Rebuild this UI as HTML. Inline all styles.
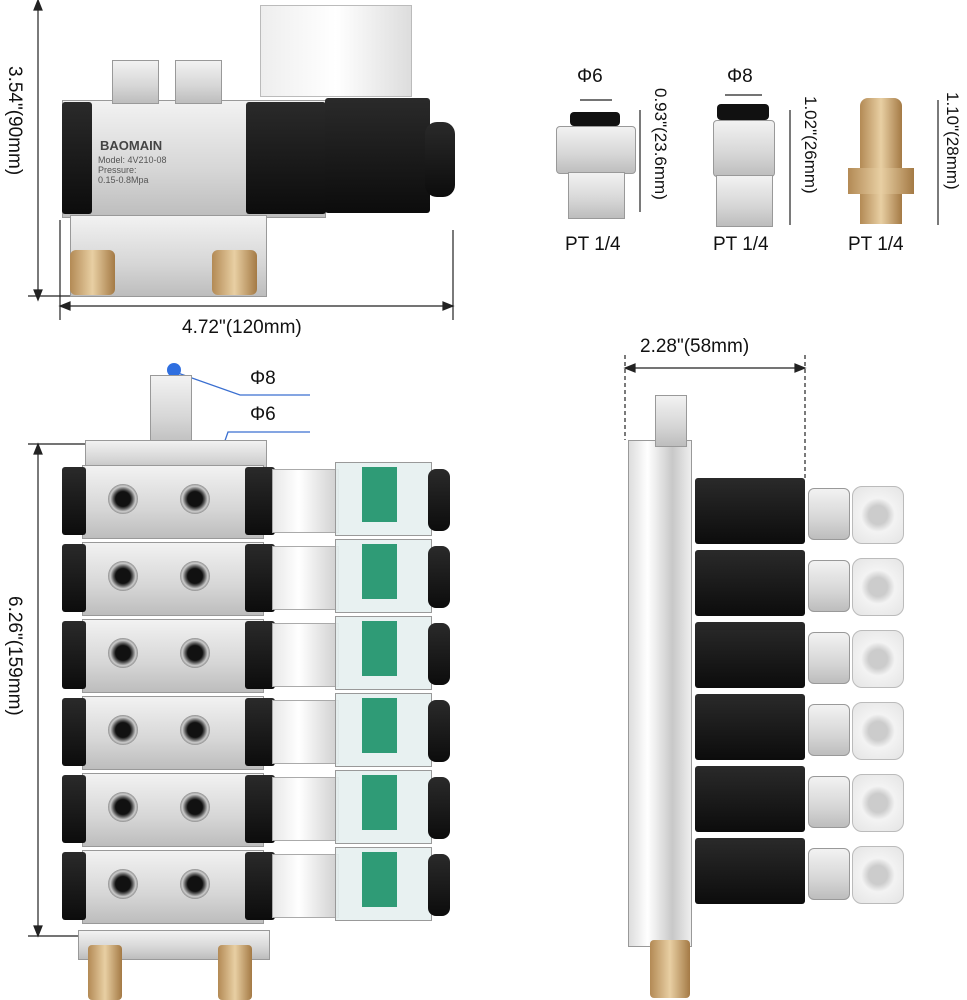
<!DOCTYPE html>
<html><head><meta charset="utf-8"><style>
body{margin:0;background:#fff;}
#c{position:relative;width:967px;height:1000px;overflow:hidden;font-family:"Liberation Sans",sans-serif;color:#111;}
.a{position:absolute;}
.t{position:absolute;font-size:19px;white-space:nowrap;}
.rot{transform:rotate(90deg);transform-origin:left top;}
.silver{background:linear-gradient(180deg,#f2f2f2,#d6d6d6 60%,#bdbdbd);border:1px solid #999;}
.blk{background:linear-gradient(180deg,#2a2a2a,#0c0c0c);border-radius:3px;}
.port{position:absolute;width:30px;height:30px;border-radius:50%;background:radial-gradient(circle,#111 35%,#555 45%,#ccc 60%,#888 72%);}
.coil{position:absolute;background:linear-gradient(90deg,#e8e8e8,#fff 40%,#cfcfcf);border:1px solid #aaa;}
.cap{position:absolute;background:rgba(230,240,240,.9);border:1px solid #999;}
.pcb{position:absolute;background:#2f9b76;}
.brass{background:linear-gradient(90deg,#b38a55,#e8cfa3 50%,#a47a45);}
</style></head><body><div id="c">

<svg class="a" style="left:0;top:0" width="967" height="1000">
<g stroke="#222" stroke-width="1.2" fill="#222">
<line x1="38" y1="2" x2="38" y2="298"/><polygon points="38,0 34,10 42,10"/><polygon points="38,300 34,290 42,290"/>
<line x1="28" y1="296" x2="260" y2="296"/>
<line x1="60" y1="306" x2="453" y2="306"/><polygon points="60,306 70,302 70,310"/><polygon points="453,306 443,302 443,310"/>
<line x1="60" y1="220" x2="60" y2="320"/><line x1="453" y1="230" x2="453" y2="320"/>
<line x1="38" y1="446" x2="38" y2="934"/><polygon points="38,444 34,454 42,454"/><polygon points="38,936 34,926 42,926"/>
<line x1="28" y1="444" x2="100" y2="444"/><line x1="28" y1="936" x2="100" y2="936"/>
<line x1="625" y1="368" x2="805" y2="368"/><polygon points="625,368 635,364 635,372"/><polygon points="805,368 795,364 795,372"/>
<line x1="625" y1="355" x2="625" y2="440" stroke-dasharray="4,3"/><line x1="805" y1="355" x2="805" y2="480" stroke-dasharray="4,3"/>
<line x1="640" y1="110" x2="640" y2="212"/><line x1="790" y1="110" x2="790" y2="225"/><line x1="938" y1="100" x2="938" y2="225"/>
<line x1="580" y1="100" x2="612" y2="100"/><line x1="725" y1="95" x2="762" y2="95"/>
</g>
<g stroke="#3a6fd0" stroke-width="1.3" fill="none">
<polyline points="175,372 240,395 310,395"/><polyline points="205,498 228,432 310,432"/>
</g>
<circle cx="174" cy="370" r="7" fill="#2f6fe0"/><circle cx="205" cy="498" r="7" fill="#2f6fe0"/>
</svg>

<div class="t rot" style="left:25px;top:66px">3.54"(90mm)</div>
<div class="t" style="left:182px;top:317px">4.72"(120mm)</div>
<div class="t rot" style="left:25px;top:596px">6.26"(159mm)</div>
<div class="t" style="left:640px;top:336px">2.28"(58mm)</div>
<div class="t" style="left:250px;top:368px">Φ8</div>
<div class="t" style="left:250px;top:404px">Φ6</div>
<div class="t" style="left:577px;top:66px">Φ6</div>
<div class="t" style="left:727px;top:66px">Φ8</div>
<div class="t" style="left:565px;top:234px">PT 1/4</div>
<div class="t" style="left:713px;top:234px">PT 1/4</div>
<div class="t" style="left:848px;top:234px">PT 1/4</div>
<div class="t rot" style="left:670px;top:88px;font-size:17px">0.93"(23.6mm)</div>
<div class="t rot" style="left:820px;top:96px;font-size:17px">1.02"(26mm)</div>
<div class="t rot" style="left:962px;top:92px;font-size:17px">1.10"(28mm)</div>

<!-- top valve -->
<div class="a silver" style="left:62px;top:100px;width:262px;height:116px"></div>
<div class="a blk" style="left:62px;top:102px;width:30px;height:112px"></div>
<div class="a blk" style="left:246px;top:102px;width:80px;height:112px"></div>
<div class="a blk" style="left:325px;top:98px;width:105px;height:115px"></div>
<div class="a blk" style="left:425px;top:122px;width:30px;height:75px;border-radius:12px"></div>
<div class="a" style="left:260px;top:5px;width:150px;height:90px;background:linear-gradient(90deg,#eee,#fff,#ddd);border:1px solid #bbb"></div>
<div class="a silver" style="left:112px;top:60px;width:45px;height:42px"></div>
<div class="a silver" style="left:175px;top:60px;width:45px;height:42px"></div>
<div class="a silver" style="left:70px;top:215px;width:195px;height:80px"></div>
<div class="a brass" style="left:70px;top:250px;width:45px;height:45px;border-radius:6px"></div>
<div class="a brass" style="left:212px;top:250px;width:45px;height:45px;border-radius:6px"></div>
<div class="a" style="left:100px;top:138px;font-size:13px;font-weight:bold;color:#444">BAOMAIN</div>
<div class="a" style="left:98px;top:155px;font-size:9px;color:#555">Model: 4V210-08<br>Pressure:<br>0.15-0.8Mpa</div>

<!-- fittings -->
<div class="a" style="left:570px;top:112px;width:50px;height:14px;background:#111;border-radius:4px"></div>
<div class="a silver" style="left:556px;top:126px;width:78px;height:46px;border-radius:4px"></div>
<div class="a silver" style="left:568px;top:172px;width:55px;height:45px"></div>
<div class="a" style="left:717px;top:104px;width:52px;height:16px;background:#111;border-radius:4px"></div>
<div class="a silver" style="left:713px;top:120px;width:60px;height:55px;border-radius:4px"></div>
<div class="a silver" style="left:716px;top:175px;width:55px;height:50px"></div>
<div class="a brass" style="left:860px;top:98px;width:42px;height:70px;border-radius:8px 8px 0 0"></div>
<div class="a brass" style="left:848px;top:168px;width:66px;height:26px"></div>
<div class="a brass" style="left:860px;top:194px;width:42px;height:30px"></div>

<!-- manifold front -->
<div class="a silver" style="left:150px;top:375px;width:40px;height:70px"></div>
<div class="a silver" style="left:85px;top:440px;width:180px;height:30px"></div>
<div class="a silver" style="left:78px;top:930px;width:190px;height:28px"></div>
<div class="a brass" style="left:88px;top:945px;width:34px;height:55px;border-radius:4px"></div>
<div class="a brass" style="left:218px;top:945px;width:34px;height:55px;border-radius:4px"></div>
<div id="mods"></div>

<!-- side view -->
<div class="a" style="left:628px;top:440px;width:62px;height:505px;background:linear-gradient(90deg,#ddd,#fff 30%,#c8c8c8 70%,#eee);border:1px solid #999"></div>
<div class="a silver" style="left:655px;top:395px;width:30px;height:50px"></div>
<div class="a brass" style="left:650px;top:940px;width:40px;height:58px;border-radius:4px"></div>

<script>
var h='';
for(var i=0;i<6;i++){var y=465+i*77;
h+='<div class="a silver" style="left:82px;top:'+y+'px;width:180px;height:72px"></div>';
h+='<div class="a blk" style="left:62px;top:'+(y+2)+'px;width:24px;height:68px"></div>';
h+='<div class="a blk" style="left:245px;top:'+(y+2)+'px;width:30px;height:68px"></div>';
h+='<div class="port" style="left:108px;top:'+(y+19)+'px"></div><div class="port" style="left:180px;top:'+(y+19)+'px"></div>';
h+='<div class="coil" style="left:272px;top:'+(y+4)+'px;width:65px;height:62px"></div>';
h+='<div class="cap" style="left:335px;top:'+(y-3)+'px;width:95px;height:72px"></div>';
h+='<div class="pcb" style="left:362px;top:'+(y+2)+'px;width:35px;height:55px"></div>';
h+='<div class="a blk" style="left:428px;top:'+(y+4)+'px;width:22px;height:62px;border-radius:8px"></div>';
var yy=478+i*72;
h+='<div class="a blk" style="left:695px;top:'+yy+'px;width:110px;height:66px"></div>';
h+='<div class="a silver" style="left:808px;top:'+(yy+10)+'px;width:40px;height:50px;border-radius:6px"></div>';
h+='<div class="a" style="left:852px;top:'+(yy+8)+'px;width:50px;height:56px;background:radial-gradient(circle,#ccc 25%,#f3f3f3 45%,#e4e4e4);border:1px solid #bbb;border-radius:10px"></div>';
}
document.getElementById('mods').outerHTML=h;
</script>
</div></body></html>
